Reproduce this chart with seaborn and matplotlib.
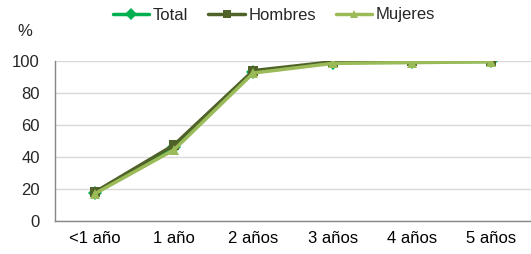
import matplotlib
matplotlib.use('Agg')
import matplotlib.pyplot as plt
import pandas as pd
import seaborn as sns

categories = ['<1 año', '1 año', '2 años', '3 años', '4 años', '5 años']
total = [17.5, 46.0, 93.0, 99.0, 99.5, 99.7]
hombres = [18.0, 47.5, 94.0, 99.5, 100.0, 100.0]
mujeres = [17.0, 44.5, 92.5, 98.5, 99.0, 99.5]
series = ['Total', 'Hombres', 'Mujeres']
colors = {'Total': '#00B050', 'Hombres': '#4F6228', 'Mujeres': '#9BBB59'}
markers = {'Total': 'D', 'Hombres': 's', 'Mujeres': '^'}

df = pd.DataFrame({'edad': categories, 'Total': total, 'Hombres': hombres, 'Mujeres': mujeres})
df = df.melt(id_vars='edad', var_name='serie', value_name='pct')
df['x'] = df['edad'].map({c: i for i, c in enumerate(categories)})

sns.set_style('white')
plt.rcParams['font.family'] = ['Liberation Sans', 'DejaVu Sans']
plt.rcParams['font.size'] = 12

fig = plt.figure(figsize=(5.31, 2.54), dpi=100)
ax = fig.add_axes([55 / 531, 33 / 254, 476 / 531, 160 / 254])

sns.lineplot(data=df, x='x', y='pct', hue='serie', style='serie', hue_order=series,
             style_order=series, palette=colors, markers=markers, dashes=False,
             linewidth=2.5, markersize=7.5, markeredgewidth=0, ax=ax, legend=False)

ax.set_xlim(-0.5, 5.45)
ax.set_ylim(0, 100)
ax.set_yticks(range(0, 101, 20))
ax.set_xticks(range(len(categories)))
ax.set_xticklabels(categories)
ax.set_xticks([i - 0.5 for i in range(len(categories) + 1)], minor=True)
ax.tick_params(axis='x', which='major', length=0, pad=7, labelsize=12, colors='#000000')
ax.tick_params(axis='x', which='minor', length=4, color='#868686', direction='out')
ax.tick_params(axis='y', length=4, color='#868686', direction='out', labelsize=12, pad=7)
ax.yaxis.grid(True, color='#D9D9D9', linewidth=1)
ax.set_axisbelow(True)
for side in ['top', 'right']:
    ax.spines[side].set_visible(False)
for side in ['left', 'bottom']:
    ax.spines[side].set_color('#868686')
    ax.spines[side].set_linewidth(1)
ax.set_xlabel('')
ax.set_ylabel('')

fig.text(25 / 531, 1 - 31 / 254, '%', fontsize=12, ha='center', va='center')

handles = [plt.Line2D([], [], color=colors[s], marker=markers[s], lw=2.5, ms=6, mew=0) for s in series]
fig.legend(handles, series, loc='center', bbox_to_anchor=(274 / 531, 1 - 15 / 254), ncol=3,
           frameon=False, handlelength=2.2, handletextpad=0.2, columnspacing=1.2, fontsize=12)

fig.savefig('out.png', dpi=100)
